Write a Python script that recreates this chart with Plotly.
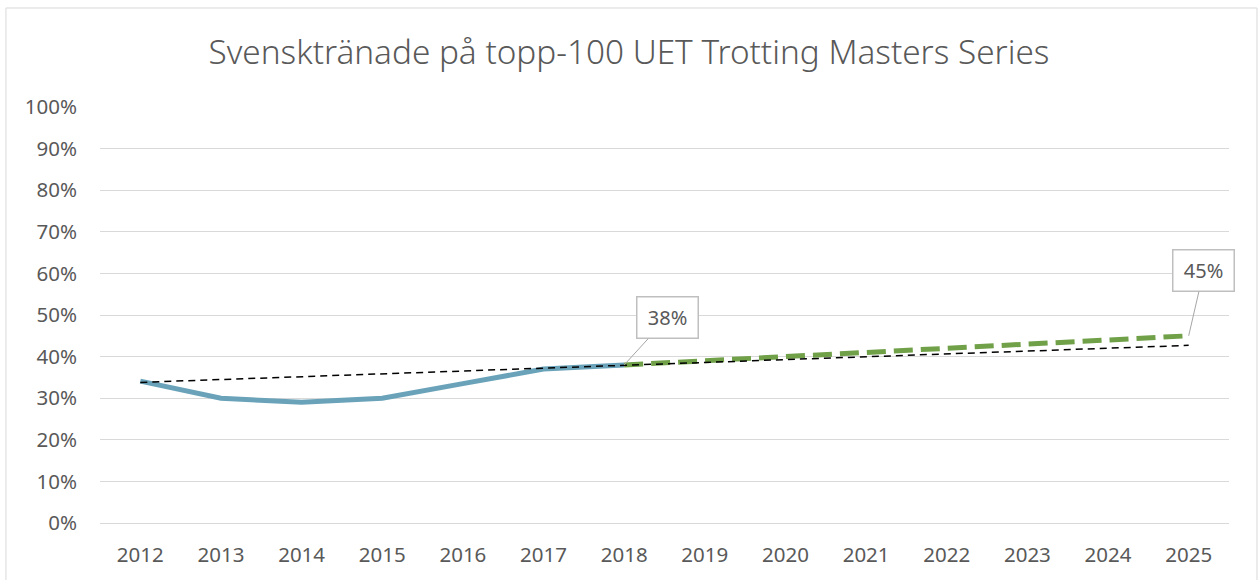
import plotly.graph_objects as go

title = "Svensktränade på topp-100 UET Trotting Masters Series"
years = [str(y) for y in range(2012, 2026)]

actual_years = ["2012", "2013", "2014", "2015", "2016", "2017", "2018"]
actual_vals = [0.341, 0.300, 0.290, 0.300, 0.335, 0.370, 0.380]

forecast_years = ["2018", "2019", "2020", "2021", "2022", "2023", "2024", "2025"]
forecast_vals = [0.38, 0.39, 0.40, 0.41, 0.42, 0.43, 0.44, 0.45]

trend_years = ["2012", "2025"]
trend_vals = [0.338, 0.427]

y_ticks = [i / 10 for i in range(11)]
y_labels = [f"{i*10}%" for i in range(11)]

FONT = "Noto Sans"
GREY = "#595959"

fig = go.Figure()
fig.add_trace(go.Scatter(x=actual_years, y=actual_vals, mode="lines",
                         line=dict(color="#6aa3b9", width=5), hoverinfo="skip"))
fig.add_trace(go.Scatter(x=forecast_years, y=forecast_vals, mode="lines",
                         line=dict(color="#70a048", width=5, dash="19px,8px"),
                         hoverinfo="skip"))
fig.add_trace(go.Scatter(x=trend_years, y=trend_vals, mode="lines",
                         line=dict(color="#000000", width=1.5, dash="7px,5px"),
                         hoverinfo="skip"))

for yr, v, ax, ay in [(actual_years[-1], actual_vals[-1], 43, -47),
                      (forecast_years[-1], forecast_vals[-1], 15, -65)]:
    fig.add_annotation(x=years.index(yr), y=v, xref="x", yref="y",
                       text=f"{round(v*100)}%",
                       showarrow=True, arrowhead=0, arrowwidth=1, arrowcolor="#a6a6a6",
                       ax=ax, ay=ay, bgcolor="white", bordercolor="#bfbfbf",
                       borderwidth=1.5, borderpad=2, width=56, height=36,
                       font=dict(family=FONT, size=20, color=GREY))

# chart frame
fig.add_shape(type="rect", xref="paper", yref="paper",
              x0=-0.0833, x1=1.0248, y0=-0.2, y1=1.238,
              line=dict(color="#d9d9d9", width=1), layer="below")

fig.update_layout(
    width=1258, height=580,
    margin=dict(l=100, r=29, t=107, b=57),
    paper_bgcolor="white", plot_bgcolor="white",
    showlegend=False,
    title=dict(text=title, x=0.5, xref="container", xanchor="center",
               y=0.9103, yref="container", yanchor="middle",
               font=dict(family=FONT, size=33.3, color=GREY, weight=300)),
    font=dict(family=FONT, color=GREY),
    xaxis=dict(type="category", categoryorder="array", categoryarray=years,
               range=[-0.5, len(years) - 0.5], showgrid=False, zeroline=False,
               showline=True, linecolor="#d9d9d9", linewidth=1, ticks="",
               tickfont=dict(family=FONT, size=20.5, color=GREY),
               ticklabelstandoff=13),
    yaxis=dict(range=[0, 1], tickvals=y_ticks, ticktext=y_labels,
               showgrid=True, gridcolor="#d9d9d9", gridwidth=1, zeroline=False,
               showline=False, ticks="",
               tickfont=dict(family=FONT, size=20.5, color=GREY),
               ticklabelstandoff=22),
)

fig.write_html("out.html", config={"displayModeBar": False},
               post_script="document.body.style.margin='0px';")
